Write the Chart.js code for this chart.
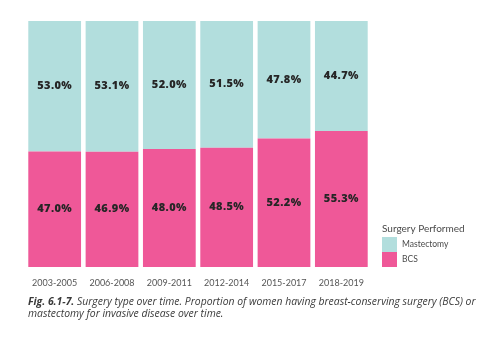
<!DOCTYPE html>
<html>
<head>
<meta charset="utf-8">
<script src="https://cdn.jsdelivr.net/npm/chart.js@4/dist/chart.umd.min.js"></script>
<style>
  html, body { margin: 0; padding: 0; background: #fff; }
  #wrap { position: relative; width: 503px; height: 352px; }
  #caption {
    position: absolute; left: 28px; top: 295px; width: 455px;
    font-family: 'Open Sans', sans-serif; font-style: italic;
    font-size: 10.4px; line-height: 12px; color: #3a3a3a;
  }
  #caption b { font-weight: 700; }
</style>
</head>
<body>
<div id="wrap">
  <canvas id="chart" width="503" height="352"></canvas>
  <div id="caption"><b>Fig. 6.1-7.</b> Surgery type over time. Proportion of women having breast-conserving surgery (BCS) or mastectomy for invasive disease over time.</div>
</div>
<script>
// periods on the x axis
const periods = ['2003-2005', '2006-2008', '2009-2011', '2012-2014', '2015-2017', '2018-2019'];
// percentages per period
const bcs = [47.0, 46.9, 48.0, 48.5, 52.2, 55.3];
const mastectomy = [53.0, 53.1, 52.0, 51.5, 47.8, 44.7];

const TEAL = '#b2dedd';
const PINK = '#ef5898';

// labels in the middle of each segment
const segmentLabels = {
    id: 'segmentLabels',
    afterDatasetsDraw(chart) {
        const ctx = chart.ctx;
        ctx.save();
        ctx.font = '800 11px "Open Sans"';
        ctx.letterSpacing = '0.4px';
        ctx.fillStyle = '#262626';
        ctx.textAlign = 'center';
        ctx.textBaseline = 'middle';
        chart.data.datasets.forEach((ds, i) => {
            chart.getDatasetMeta(i).data.forEach((bar, j) => {
                const y = (bar.y + bar.base) / 2;
                ctx.fillText(ds.data[j].toFixed(1) + '%', bar.x, y);
            });
        });
        ctx.restore();
    }
};

// legend box on the right, Mastectomy above BCS
const sideLegend = {
    id: 'sideLegend',
    afterDraw(chart) {
        const ctx = chart.ctx;
        const x = 382, y = 237, box = 15;
        ctx.save();
        ctx.fillStyle = '#4a4a4a';
        ctx.textBaseline = 'middle';
        ctx.font = '10px Lato';
        ctx.fillText('Surgery Performed', x, y - 8);
        const items = [chart.data.datasets[1], chart.data.datasets[0]];
        ctx.font = '8.5px Lato';
        items.forEach((ds, k) => {
            ctx.fillStyle = ds.backgroundColor;
            ctx.fillRect(x, y + k * box, box, box);
            ctx.fillStyle = '#4a4a4a';
            ctx.fillText(ds.label, x + 20, y + k * box + box / 2);
        });
        ctx.restore();
    }
};

new Chart(document.getElementById('chart'), {
    type: 'bar',
    data: {
        labels: periods,
        datasets: [
            { label: 'BCS', data: bcs, backgroundColor: PINK, borderWidth: 0 },
            { label: 'Mastectomy', data: mastectomy, backgroundColor: TEAL, borderWidth: 0 }
        ]
    },
    options: {
        responsive: false,
        animation: false,
        events: [],
        layout: { padding: { left: 26, right: 133, top: 21, bottom: 65 } },
        datasets: { bar: { barPercentage: 0.92, categoryPercentage: 1 } },
        plugins: { legend: { display: false }, tooltip: { enabled: false } },
        scales: {
            x: {
                stacked: true,
                grid: { display: false },
                border: { display: false },
                ticks: { color: '#555', font: { family: 'Lato', size: 9 }, padding: 3, maxRotation: 0 },
                afterFit(scale) { scale.height = 20; }
            },
            y: {
                stacked: true,
                display: false,
                min: 0,
                max: 100
            }
        }
    },
    plugins: [segmentLabels, sideLegend]
});
</script>
</body>
</html>
